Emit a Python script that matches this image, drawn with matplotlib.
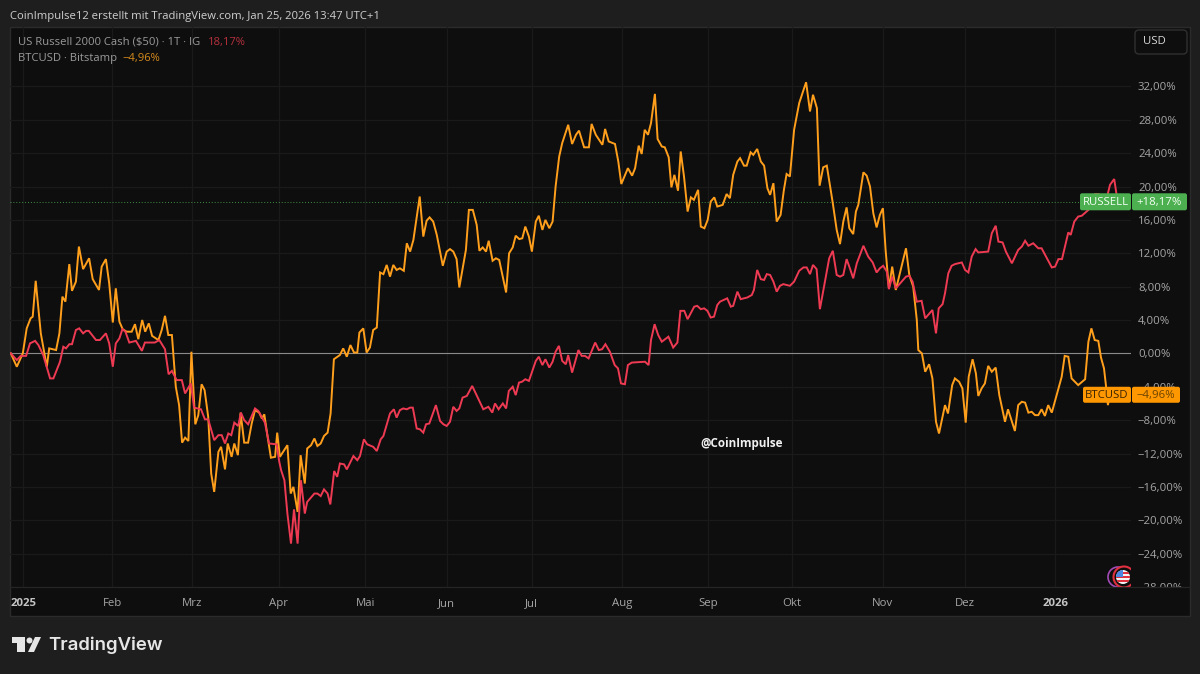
import matplotlib
matplotlib.use("Agg")
import matplotlib.pyplot as plt
from matplotlib.patches import Rectangle, FancyBboxPatch, Circle, Polygon
from matplotlib.transforms import IdentityTransform, Bbox

plt.rcParams['font.family'] = ['Open Sans', 'DejaVu Sans']

# bar position on the time scale / percentage change
btc_bars = [3.6,5.6,7.6,8.9,10.2,10.9,11.9,13.6,15.6,16.4,18.7,19.8,20.8,21.8,23.1,24,25.3,26.3,27.7,29.7,30.9,33,33.9,35.3,36.4,37.6,38.6,39.8,40.9,42.2,43.9,45,46.1,47.4,48.4,49.6,50.7,52.8,53.9,55,56.1,57.3,58.6,59.7,60.7,61.7,62.8,63.8,65.1,66.1,67.2,68.2,69.4,70.4,71.4,72.8,73.7,75,75.9,77.2,78.1,79.3,80.2,81.4,82.7,83.9,85,86.4,87.3,88.1,89.2,90.3,91.7,92.4,93.3,95.8,96.9,97.8,99.2,100.2,101.6,102.4,103.7,104.8,105.8,106.9,108,109.2,110.2,111.3,113.3,114.4,115.6,116.8,118,119.1,119.8,
121.1,122.2,123.3,124.4,125.6,126.7,127.8,128.9,130,131.1,132.2,133.3,134.6,135.6,136.7,137.8,139.9,141.1,142.2,143.2,144.4,145.6,147.6,148.9,150,151.1,152.2,153.1,155.3,156.3,157.6,158.9,159.8,160.9,162,162.9,164.2,165.3,166.4,168.7,169.7,170.9,171.9,173.1,174.1,175.1,176.3,177.3,178.6,179.6,180.8,181.8,183.1,184.2,185.2,186.4,187.4,189.4,190.7,192,193,194.7,196.3,197.2,198.6,200.8,201.7,202.9,205,206.1,207.1,209.3,210.7,211.7,212.9,213.9,214.9,216,217,218.3,219.2,220.6,221.6,222.9,223.8,224.8,226,226.9,228,229.2,230.3,231.3,232.7,233.6,234.8,235.9,236.9,238.1,239.1,
240.9,242.2,243.3,244.4,245.8,246.7,248,248.9,250.2,251.1,252.4,253.6,254.7,255.8,256.7,257.8,258.9,260.2,261.3,262.2,263.3,264.7,266.4,268.7,270,271,272.3,273.2,274.4,275.6,277.6,278.9,280,281.1,282.2,283.1,284.4,285.3,286.1,287.8,288.9,290,291.1,292.2,293.3,294.3,295.2,296.3,297.4,298.6,302,303.1,304.4,305.6,306.1,307.3,308.4,309.7,310.8,312,313,315,316,317.4,318.3,319.7,320.8,321.9,322.9,324.2,325.3,326.1,327.2,328.3,329.4,330.6,331.9,333.1,335,336,338.3,339.4,340.6,341.7,342.8,343.9,345,346.1,347.2,348.3,349.4,350.6,353.9,354.9,356.1,357.2,359.4,361.7,362.8,363.8,364.9,366.1,367,368,368.7,369.3,370]
btc_pct = [0,-1.6,0,3.0,4.2,4.4,8.7,2.4,-1.6,0.6,0.4,2.4,6.8,6.2,10.7,7.5,8.6,12.8,10.1,11.4,8.9,7.6,10.4,11.3,8.4,3.7,7.8,3.8,2.9,2.6,2.6,3.5,1.7,4.0,2.6,3.6,2.1,1.6,2.8,4.5,2.2,2.2,-4.0,-6.2,-10.7,-10.1,-10.5,0.2,-8.5,-7.4,-3.7,-4.4,-7.6,-14.4,-16.6,-11.8,-11.2,-13.9,-10.8,-12.4,-10.8,-12.2,-7.1,-10.7,-10.7,-8.4,-6.8,-7.1,-7.8,-7.3,-10,-12.5,-12.4,-9.5,-12.4,-11,-16.8,-16,-19,-12.2,-15.6,-11.4,-11,-10.2,-11.1,-10.8,-9.9,-9.5,-7.2,-0.7,-0.2,0.6,-0.4,1.0,0.1,0.1,2.5,
3.0,0.1,0.7,2.8,3.1,9.7,9.5,10.6,9.2,10.6,10,10.2,9.9,13.2,12.2,13.6,18.8,14,15.9,16.3,15.8,14.2,10.5,12.2,12.5,12.2,11.3,7.9,12.4,17.2,17.2,15.4,12.3,12.7,12.2,13.5,11.1,11.4,11.2,7.3,12,12.7,14.1,13.7,13.8,15.2,14,12.2,15.8,16.5,14.8,16,15,15.8,20,23.6,25.2,27.4,25.1,26.2,26.7,24.7,24.7,27.5,26.2,25,26.9,25.4,25.1,23,20.3,22.2,21.3,22.2,24.9,23.9,26.8,26.2,27.6,31.1,25.7,24.8,24.7,23.5,19.9,21.4,19.5,24.2,21.2,17,18.7,18.4,19.6,15.2,15,16,18.2,18.7,17.6,
17.8,19.1,18.6,21.4,23,23.4,22.5,22.5,24.1,23.8,24.5,23,22.5,19.8,19,20.4,15.8,16.6,19.6,21.5,21.2,26.8,30,32.5,29,31,29.4,20.1,22.3,22.5,18,14.8,13.1,15.8,17.5,15,14.3,17,17.8,21.7,21.3,20,16.8,15.1,16.6,17.4,12.4,7.8,10.4,7.6,12.6,9.4,8,4,0.4,0,-2.2,-1.3,-3,-8.2,-9.6,-6.2,-7.2,-3.8,-3,-3.4,-4.2,-8.3,-2.8,-0.7,-2.4,-5.1,-4.2,-3.6,-1.5,-2.2,-1.7,-5,-8.2,-6.7,-9.3,-6.2,-5.8,-5.9,-7.1,-7,-7.4,-7.4,-6.7,-7.5,-6.2,-7.1,-2.8,-0.3,-0.4,-3,-3.8,-3.1,1.4,3,1.6,1.5,-0.5,-1.8,-4,-6.2,-4.96]

rut_bars = [3.6,5.6,6.9,8.7,10,11.7,12.8,14.4,16.7,17.8,20,21.1,22,23.1,24,25.3,26.4,27.7,28.7,29.6,32,33.3,35.3,36.4,37.6,38.6,39.8,40.8,41.8,43.1,45.3,47.3,48.3,51.6,53.1,55,56.2,57.3,58.9,60.6,61.7,63.6,64.7,67,68.3,69.4,71.4,72.8,73.9,75,76.1,77.1,78.1,79.4,80.3,81.4,82.7,85,86.1,88.3,89.7,92.2,93.1,93.7,94.8,95.8,97,98,99.2,100.3,101.6,102.4,104.8,105.8,106.9,108,109.2,110.1,111.4,112.4,113.3,
114.7,115.6,117.8,119.1,120,121.3,122.4,124.4,125.6,126.9,127.8,130,131.3,132.2,133.3,134.4,135.6,136.7,137.6,138.9,140,141.1,142,143.1,145.3,146.7,147.8,148.9,150,151.1,152.2,153.1,154.2,155.6,157.4,161.1,162.8,164.1,165,166.2,167.6,168.7,169.6,170.9,171.9,173,174,175.1,176.3,
178.6,179.6,180.8,181.8,183.1,184.2,185.2,186.3,187.4,188.6,189.4,190.7,192.8,193.9,195,196.2,198.4,199.6,200.7,201.8,203.3,204.9,206,207,208.3,209.3,210.6,215,216.2,217,218.2,219.4,220.6,222.8,224.4,225.8,226.8,228.1,229.2,231.4,232.4,233.6,234.7,235.8,236.9,238,239.1,
240,242.4,243.6,244.4,245.8,246.9,249.1,250.6,251.3,252.4,253.6,254.7,255.6,256.7,257.8,258.9,260,261.1,263.3,264.7,266.4,267.8,268.9,270,271,272.2,273.3,276.4,277.6,278.9,280,281.1,282.2,283.3,284.4,285.6,287.8,289.4,290.9,292.2,293.3,294.4,295.6,296.3,297.4,298.6,302,303.1,304.2,305.6,307.2,308.4,310.8,312,312.9,314.2,315,316.1,317.2,318.3,320.6,321.7,322.8,323.9,325.2,326.1,329.4,330.6,331.9,332.8,334.2,335.3,337.3,339.4,340.6,341.7,342.8,344.4,346.1,347.2,350.6,351.7,352.8,354,356.1,356.9,358.1,359.4,360.6,362.8,365,366.1,368.9,370,371.4,372.2,372.8]
rut_pct = [0,-0.8,-0.3,-0.3,1.2,1.5,1,-0.2,-3,-3,-1,0.8,0.6,1.1,1.1,2.8,3,2.4,2.7,2.7,1.6,1.6,2.4,1.2,-1.6,1.2,1.8,2.9,2.6,1.3,1.5,0.3,1.3,1.3,1.6,0.5,-2.5,-2.1,-3.2,-3.2,-4.8,-3.6,-6.5,-6.7,-7.9,-7.9,-10.4,-9.8,-9.8,-10.8,-9.6,-9.8,-8.3,-8.7,-7.1,-8,-8.5,-6.6,-6.9,-8.3,-10.8,-10.9,-13,-14,-15.2,-19.2,-22.8,-18.7,-22.8,-15.2,-19.2,-17.8,-16.8,-16.8,-17.1,-16.3,-16.8,-18.1,-14.1,-14.8,-13.2,
-13.3,-13.9,-12.3,-12.8,-12.3,-10.3,-10.9,-11.2,-11.7,-10.3,-9.9,-7.2,-6.7,-7.7,-6.8,-6.6,-6.7,-6.5,-6.5,-9,-9.1,-9.5,-8.5,-8.4,-6.2,-8.1,-8.5,-8.7,-8.2,-6.4,-6.9,-6.6,-5.3,-5.1,-3.9,-6.7,-6.4,-7.1,-6,-6.7,-6,-6.6,-4.5,-4,-5,-3.5,-3.4,-3.1,-3.3,
-0.9,-0.4,-1.4,-0.7,-1.7,-1,0.2,0.9,-0.9,-1.3,-0.2,-2.3,0.4,-0.3,-0.3,-0.6,1.3,0.4,0.5,1.1,0.2,-1.4,-1.8,-3.6,-3.7,-1.4,-1.1,-1,-1.4,1.6,3.5,2.2,1.4,2,0.7,1.3,5.1,5.1,4.1,5.6,5.7,5.3,5.4,5.1,4.3,4.4,5.8,
6.2,6.6,5.6,5.7,7.4,6.5,6.7,7,7.6,10,8.9,8.8,9.5,9.4,8.6,7.4,8.1,8.3,8.1,8.6,9.9,10.3,10.3,9.5,10.6,10.1,5.3,11.4,12.3,9.4,9.2,9.4,11.3,10.2,9,10.8,12.9,11.6,10.9,9.7,10.2,10.5,9.8,7.7,9.2,7.8,9.2,9.3,8.6,6.2,6.3,4.2,5.2,2.4,5.4,5.9,7.2,9.6,10.5,10.7,10.9,10,9.7,11.6,12.5,12.1,12.2,14.4,15.3,13.4,13.3,12.2,10.8,12.4,12.8,13.5,12.9,13.2,12.6,12.6,10.3,10.4,11.3,11.3,14.5,14.2,15.8,16.4,16.5,17.2,19.1,19.1,18.6,20.2,20.9,19,18.17]

month_bars = [7.7,37.4,64.1,92.9,121.8,148.9,177.3,207.4,236.1,264,294.3,321.7,351.7]
month_labels = ['2025','Feb','Mrz','Apr','Mai','Jun','Jul','Aug','Sep','Okt','Nov','Dez','2026']
pct_ticks = [32,28,24,20,16,12,8,4,0,-4,-8,-12,-16,-20,-24,-28]
rut_last = 18.17
btc_last = -4.96
rut_last_text = '+18,17%'
btc_last_text = '\u22124,96%'

W, H = 1200, 674
BG = '#1e1e1e'; PANEL = '#0e0e0f'; GRID = '#1a1a1b'; EDGE = '#2b2b2b'
ORANGE = '#ff9f1c'; RED = '#ee3a52'; GREEN = '#4caf50'; LBLORANGE = '#ff9800'

fig = plt.figure(figsize=(W/100, H/100), dpi=100, facecolor=BG)
def Y(y): return H - y
px = IdentityTransform()

# panel
panel = Rectangle((10, Y(616)), 1180, 589, transform=px, facecolor=PANEL, edgecolor=EDGE, lw=1, zorder=-2)
fig.patches.append(panel)

ax = fig.add_axes([10/W, Y(587)/H, 1121/W, 560/H])
ax.set_zorder(1)
ax.set_facecolor('none')
for s in ax.spines.values():
    s.set_visible(False)
ax.set_xlim(10/3, 1131/3)
ax.set_ylim(-28.0, 39.12)
ax.set_axisbelow(True)
ax.yaxis.tick_right()
ax.set_yticks(pct_ticks)
ax.set_yticklabels([f"{abs(v)},00%" if v >= 0 else f"\u2212{abs(v)},00%" for v in pct_ticks])
ax.set_xticks(month_bars)
ax.set_xticklabels(month_labels)
ax.tick_params(axis='both', length=0, labelsize=8.2, labelcolor='#a6a6a6')
ax.tick_params(axis='y', pad=5)
ax.tick_params(axis='x', pad=8)
for t in ax.get_xticklabels():
    if t.get_text() in ('2025', '2026'):
        t.set_fontweight('bold'); t.set_color('#c4c4c4')
ax.grid(True, color=GRID, lw=0.9)

ax.axhline(0, color='#8a8a8a', lw=0.8, zorder=1.6)
ax.axhline(rut_last, color=GREEN, lw=0.7, ls=(0, (1, 2)), alpha=0.8, zorder=1.6)

ax.plot(btc_bars, btc_pct, color=ORANGE, lw=1.4, solid_joinstyle='miter', zorder=2.2)
ax.plot(rut_bars, rut_pct, color=RED, lw=1.4, solid_joinstyle='miter', zorder=2.3)

# time scale covers the lower half of the last price label
fig.canvas.draw()
for t in ax.get_yticklabels():
    if t.get_text().startswith('\u221228'):
        t.set_clip_on(True)
        t.set_clip_box(Bbox([[1131, Y(587)], [1190, Y(560)]]))

# separator of the time scale
fig.add_artist(plt.Line2D([10, 1190], [Y(587), Y(587)], transform=px, color='#252525', lw=0.9, zorder=2))

def ypix(v):
    return ax.transData.transform((0, v))[1]

def tag(x0, x1, yc, hgt, color, text, tcolor):
    fig.patches.append(FancyBboxPatch((x0+1, yc-hgt/2+1), x1-x0-2, hgt-2, boxstyle='round,pad=1,rounding_size=2',
                                      transform=px, facecolor=color, edgecolor='none', zorder=6))
    fig.text((x0+x1)/2, yc-0.5, text, transform=px, ha='center', va='center', color=tcolor, fontsize=8.2, zorder=7)

yr = ypix(rut_last); yb = ypix(btc_last)
tag(1080, 1131, yr, 17, GREEN, 'RUSSELL', '#f2fff2')
tag(1132, 1187, yr, 17, GREEN, rut_last_text, '#f2fff2')
tag(1083, 1131, yb, 16, LBLORANGE, 'BTCUSD', '#3a2400')
tag(1132, 1180, yb, 16, LBLORANGE, btc_last_text, '#6a4200')

# header & legend
fig.text(10, Y(16), 'CoinImpulse12 erstellt mit TradingView.com, Jan 25, 2026 13:47 UTC+1', transform=px,
         color='#cfcfcf', fontsize=8.1, va='center', ha='left')
fig.text(18, Y(42), 'US Russell 2000 Cash ($50) \u00b7 1T \u00b7 IG', transform=px, color='#9a9a9a', fontsize=8.1, va='center')
fig.text(208, Y(42), '18,17%', transform=px, color='#b5303c', fontsize=8.1, va='center')
fig.text(18, Y(58.5), 'BTCUSD \u00b7 Bitstamp', transform=px, color='#9a9a9a', fontsize=8.1, va='center')
fig.text(122, Y(58.5), '\u22124,96%', transform=px, color='#d68a1c', fontsize=8.1, va='center')

# USD button
fig.patches.append(FancyBboxPatch((1137, Y(52)), 48, 20, boxstyle='round,pad=2,rounding_size=4', transform=px,
                                  facecolor=PANEL, edgecolor='#303030', lw=1, zorder=3))
fig.text(1143, Y(42), 'USD', transform=px, color='#d8d8d8', fontsize=8.2, va='center', zorder=4)

# watermark
fig.text(742, Y(443), '@CoinImpulse', transform=px, color='#f0f0f0', fontsize=8.4, fontweight='bold', ha='center', va='center', zorder=4)

# TradingView logo
LOGO = '#e6e6e6'
fig.patches.append(Polygon([(12, Y(637)), (25, Y(637)), (25, Y(652)), (17, Y(652)), (17, Y(643)), (12, Y(643))],
                           closed=True, transform=px, facecolor=LOGO, edgecolor='none'))
fig.patches.append(Circle((29.5, Y(640.5)), 3, transform=px, facecolor=LOGO, edgecolor='none'))
fig.patches.append(Polygon([(28, Y(652)), (35, Y(637)), (41, Y(637)), (34, Y(652))],
                           closed=True, transform=px, facecolor=LOGO, edgecolor='none'))
fig.text(48, Y(645), 'TradingView', transform=px, color=LOGO, fontsize=13.4, fontweight='semibold',
         family=['Inter', 'DejaVu Sans'], va='center', ha='left')

# event icon
cc = (1123, Y(577))
icon = [Circle((1118, Y(577)), 10, transform=px, facecolor='none', edgecolor='#a24bb5', lw=1.2),
        Circle((1124, Y(577)), 10.5, transform=px, facecolor='#0e0e0f', edgecolor='#e0303f', lw=1.5),
        Circle(cc, 7, transform=px, facecolor='#f4f4f4', edgecolor='none')]
for p in icon:
    p.set_zorder(4); ax.add_patch(p)
flag = Circle(cc, 7, transform=px)
for (yy, col, x0, wd, ht) in [(572, '#e0303f', 1116, 14, 1.6), (576, '#e0303f', 1116, 14, 1.6),
                              (580, '#e0303f', 1116, 14, 1.8), (570, '#4a86e0', 1116, 7, 7)]:
    r = Rectangle((x0, Y(yy+ht)), wd, ht, transform=px, facecolor=col, edgecolor='none', zorder=5)
    ax.add_patch(r)
    r.set_clip_path(flag)
ax.set_xlim(10/3, 1131/3)
ax.set_ylim(-28.0, 39.12)

fig.savefig('out.png', dpi=100, facecolor=BG)
